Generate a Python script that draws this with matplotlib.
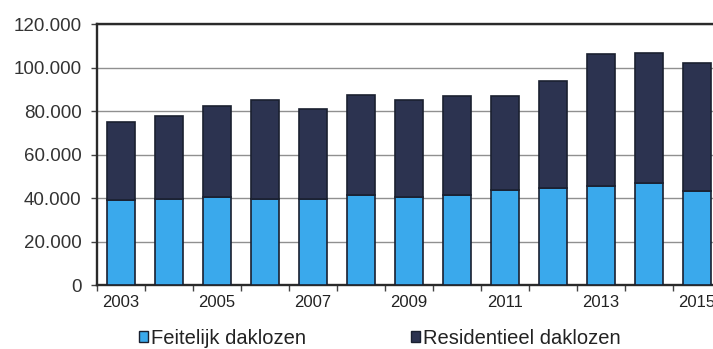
import numpy as np
import matplotlib.pyplot as plt
from matplotlib.patches import Patch
from matplotlib.ticker import FuncFormatter

# daklozen per jaar (stacked)
years = [2003, 2004, 2005, 2006, 2007, 2008, 2009, 2010, 2011, 2012, 2013, 2014, 2015]
feitelijk = [39000, 39500, 40300, 39400, 39500, 41400, 40600, 41500, 43700, 44700, 45700, 47000, 43200]
totaal = [75000, 77500, 82500, 85000, 81000, 87500, 85000, 87000, 87000, 94000, 106000, 106500, 102000]
residentieel = [t - f for t, f in zip(totaal, feitelijk)]
labels = ['Feitelijk daklozen', 'Residentieel daklozen']

plt.rcParams['font.family'] = ['Liberation Sans', 'DejaVu Sans']

fig = plt.figure(figsize=(7.13, 3.49), dpi=100)
ax = fig.add_axes([97/713, 64/349, 624/713, 261/349])

x = np.arange(len(years))
light = '#3aa9ec'
dark = '#2c3350'
ax.bar(x, feitelijk, width=0.6, color=light, edgecolor='#1a2030', linewidth=1.2, zorder=3)
ax.bar(x, residentieel, width=0.6, bottom=feitelijk, color=dark, edgecolor='#1a2030', linewidth=1.2, zorder=3)

ax.set_xlim(-0.5, len(years) - 0.5)
ax.set_ylim(0, 120000)
ax.set_yticks(np.arange(0, 120001, 20000))
ax.yaxis.set_major_formatter(FuncFormatter(lambda v, p: '0' if v == 0 else f'{int(v):,}'.replace(',', '.')))
ax.yaxis.grid(True, color='#909090', linewidth=1.0, zorder=0)

# ticks between categories, labels on odd years
ax.set_xticks(np.arange(-0.5, len(years), 1.0))
ax.set_xticklabels([])
ax.set_xticks(x[::2], minor=True)
ax.set_xticklabels([str(y) for y in years[::2]], minor=True)
ax.tick_params(axis='x', which='major', length=4, width=1, color='#444444', direction='out')
ax.tick_params(axis='x', which='minor', length=0, pad=7, labelsize=12, labelcolor='#222222')
ax.tick_params(axis='y', length=4, width=1, color='#444444', labelsize=13.5, labelcolor='#333333', pad=7)

for s in ['left', 'bottom', 'top']:
    ax.spines[s].set_color('#2a2a2a')
    ax.spines[s].set_linewidth(1.7)
ax.spines['right'].set_visible(False)

handles = [Patch(facecolor=light, edgecolor='#1a2030'), Patch(facecolor=dark, edgecolor='#1a2030')]
fig.legend(handles, labels, loc='center', bbox_to_anchor=(0.533, 0.03), ncol=2, frameon=False,
           fontsize=14.5, handlelength=0.45, handleheight=0.45, handletextpad=0.15, columnspacing=5.2,
           labelcolor='#222222', borderpad=0.1)

fig.savefig('out.png', dpi=100)
